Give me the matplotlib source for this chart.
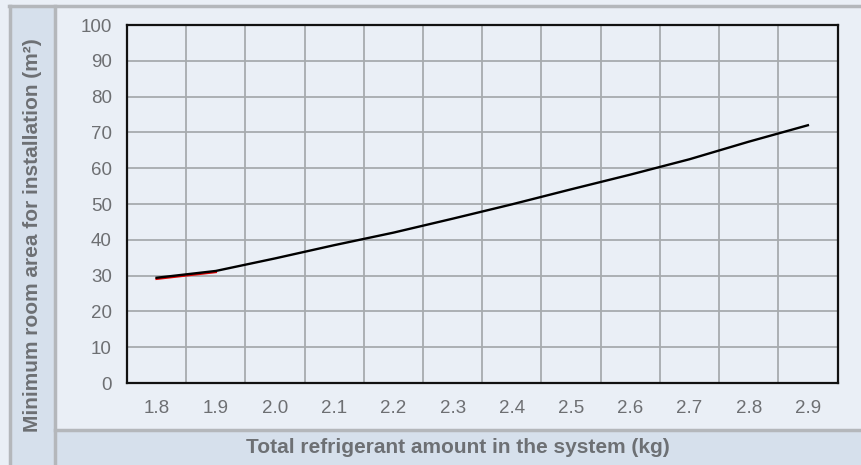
import matplotlib
matplotlib.use("Agg")
import matplotlib.pyplot as plt
from matplotlib.patches import Rectangle
from matplotlib.lines import Line2D

plt.rcParams['font.family'] = ['Liberation Sans', 'DejaVu Sans']

# refrigerant charge (kg) vs minimum floor area (m2)
charge_kg = [1.8, 1.9, 2.0, 2.1, 2.2, 2.3, 2.4, 2.5, 2.6, 2.7, 2.8, 2.9]
min_area = [29.4, 31.3, 34.8, 38.5, 42.0, 45.9, 49.9, 54.1, 58.2, 62.5, 67.4, 72.0]
# short red segment under the first step
red_kg = [1.8, 1.9]
red_area = [29.1, 31.0]

x_ticks = [1.8, 1.9, 2.0, 2.1, 2.2, 2.3, 2.4, 2.5, 2.6, 2.7, 2.8, 2.9]
y_ticks = [0, 10, 20, 30, 40, 50, 60, 70, 80, 90, 100]

W, H = 861, 465
fig = plt.figure(figsize=(W / 100, H / 100), dpi=100)
fig.patch.set_facecolor('#eaeff6')

def px(x0, y0, x1, y1):
    # pixel box (top-left origin) -> figure fraction rect
    return (x0 / W, 1 - y1 / H, (x1 - x0) / W, (y1 - y0) / H)

strip = '#d6e0ec'
edge = '#b4b7bb'
for (x0, y0, x1, y1) in [(10, 6, 55, H), (55, 430, W, H)]:
    l, b, w, h = px(x0, y0, x1, y1)
    fig.add_artist(Rectangle((l, b), w, h, transform=fig.transFigure,
                             facecolor=strip, edgecolor='none', zorder=0))

def hline(y, x0, x1, lw=2.5):
    fig.add_artist(Line2D([x0 / W, x1 / W], [1 - y / H, 1 - y / H],
                          transform=fig.transFigure, color=edge, lw=lw))

def vline(x, y0, y1, lw=2.5):
    fig.add_artist(Line2D([x / W, x / W], [1 - y0 / H, 1 - y1 / H],
                          transform=fig.transFigure, color=edge, lw=lw))

hline(6.5, 9, W)
hline(430, 55, W)
vline(10, 6, H)
vline(55, 6, H)

ax = fig.add_axes(px(127, 25, 837.5, 383))
ax.set_facecolor('#eaeff6')
ax.plot(red_kg, red_area, color='#e00000', lw=1.7, zorder=3)
ax.plot(charge_kg, min_area, color='black', lw=1.7, zorder=4)

ax.set_xlim(1.75, 2.95)
ax.set_ylim(0, 100)
ax.set_xticks(x_ticks)
ax.set_xticklabels([f'{v:.1f}' for v in x_ticks])
ax.set_xticks([1.75 + 0.1 * i for i in range(13)], minor=True)
ax.set_yticks(y_ticks)
ax.grid(True, which='minor', axis='x', color='#a7abae', lw=1.3)
ax.grid(True, which='major', axis='y', color='#a7abae', lw=1.3)
ax.tick_params(which='both', length=0)
ax.tick_params(axis='y', pad=11, labelsize=13.5, labelcolor='#6d6f72')
ax.tick_params(axis='x', pad=12, labelsize=13.5, labelcolor='#6d6f72')
ax.set_axisbelow(True)
for s in ax.spines.values():
    s.set_color('#111111')
    s.set_linewidth(1.6)

fig.text(33 / W, 1 - 235.5 / H, 'Minimum room area for installation (m²)',
         rotation=90, ha='center', va='center', fontsize=15,
         fontweight='bold', color='#6d7074')
fig.text(458 / W, 1 - 447.5 / H, 'Total refrigerant amount in the system (kg)',
         ha='center', va='center', fontsize=15, fontweight='bold',
         color='#6d7074')

fig.savefig('out.png', dpi=100, facecolor=fig.get_facecolor())
